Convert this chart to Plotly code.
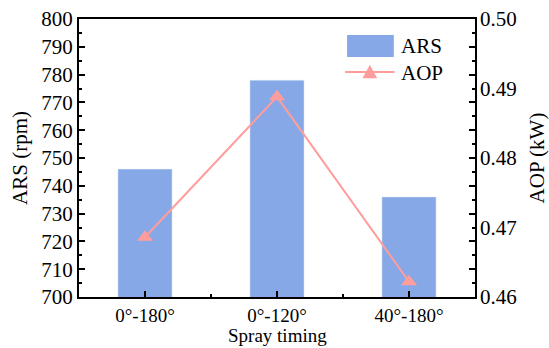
import plotly.graph_objects as go

categories = ["0°-180°", "0°-120°", "40°-180°"]
ars_values = [746, 778, 736]
aop_values = [0.4686, 0.4888, 0.4622]

x_pos = list(range(len(categories)))
font_family = "Liberation Serif, Times New Roman, serif"
bar_color = "#86A8E7"
line_color = "#FF9D9D"

fig = go.Figure()
fig.add_trace(go.Bar(x=x_pos, y=ars_values, name="ARS", marker_color=bar_color,
                     width=0.41, base=0, yaxis="y", showlegend=False))
fig.add_trace(go.Scatter(x=x_pos, y=aop_values, name="AOP", mode="lines+markers",
                         line=dict(color=line_color, width=2),
                         marker=dict(symbol="triangle-up", size=14, color=line_color),
                         yaxis="y2", showlegend=False))

# Manual legend (paper coordinates)
fig.add_shape(type="rect", xref="paper", yref="paper", x0=0.677, x1=0.795, y0=0.863, y1=0.942,
              fillcolor=bar_color, line=dict(width=0))
fig.add_shape(type="line", xref="paper", yref="paper", x0=0.672, x1=0.797, y0=0.809, y1=0.809,
              line=dict(color=line_color, width=2))
fig.add_shape(type="path", xref="paper", yref="paper",
              path="M 0.716 0.787 L 0.753 0.787 L 0.7345 0.835 Z",
              fillcolor=line_color, line=dict(width=0))
fig.add_annotation(xref="paper", yref="paper", x=0.808, y=0.903, text="ARS", showarrow=False,
                   xanchor="left", yanchor="middle", font=dict(size=21))
fig.add_annotation(xref="paper", yref="paper", x=0.808, y=0.806, text="AOP", showarrow=False,
                   xanchor="left", yanchor="middle", font=dict(size=21))
# x-axis title
fig.add_annotation(xref="paper", yref="paper", x=0.5, y=-0.138, text="Spray timing", showarrow=False,
                   xanchor="center", yanchor="middle", font=dict(size=19))

fig.update_layout(
    width=549, height=348,
    margin=dict(l=79, r=74, t=19, b=51),
    plot_bgcolor="white", paper_bgcolor="white",
    font=dict(family=font_family, size=21, color="black"),
    xaxis=dict(
        range=[-0.5, 2.5], tickmode="array", tickvals=x_pos, ticktext=categories,
        showline=True, linecolor="black", linewidth=2, mirror=True,
        ticks="inside", ticklen=6, tickwidth=2, tickcolor="black",
        minor=dict(tickmode="array", tickvals=[0.5, 1.5], ticks="inside", ticklen=3, tickwidth=2, tickcolor="black"),
        showgrid=False, zeroline=False, automargin=False,
        tickfont=dict(size=19),
    ),
    yaxis=dict(
        range=[700, 800], dtick=10, tick0=700,
        showline=True, linecolor="black", linewidth=2, mirror="ticks",
        ticks="inside", ticklen=6, tickwidth=2, tickcolor="black",
        minor=dict(dtick=5, ticks="inside", ticklen=3, tickwidth=2, tickcolor="black"),
        showgrid=False, zeroline=False, automargin=False,
        title=dict(text="ARS (rpm)", standoff=8, font=dict(size=21)),
        tickfont=dict(size=21),
    ),
    yaxis2=dict(
        range=[0.46, 0.50], dtick=0.01, tick0=0.46, tickformat=".2f",
        overlaying="y", side="right",
        showline=False, ticks="", showgrid=False, zeroline=False, automargin=False,
        ticklabelstandoff=4,
        title=dict(text="AOP (kW)", standoff=16, font=dict(size=21)),
        tickfont=dict(size=21),
    ),
)

fig.write_html("out.html")
